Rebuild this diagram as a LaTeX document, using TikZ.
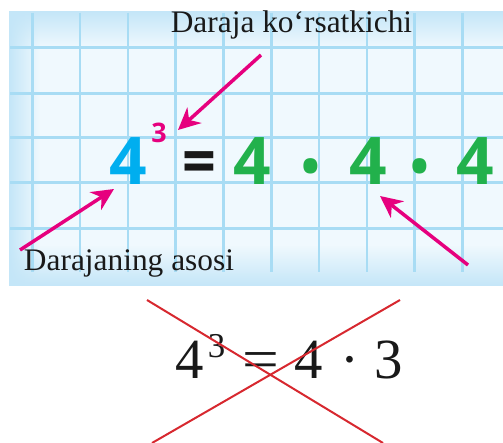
\documentclass[tikz,border=0pt]{standalone}
\usepackage{fontspec}
\setmainfont{Liberation Serif}
\newfontfamily\digfont{Open Sans}
\usetikzlibrary{arrows.meta,fadings}
\definecolor{gridblue}{HTML}{A8DCF4}
\definecolor{bgin}{HTML}{F0F9FE}
\definecolor{bgedge}{HTML}{C4E6F8}
\definecolor{cyanfour}{HTML}{00AEEF}
\definecolor{greenfour}{HTML}{22B14C}
\definecolor{magentaarrow}{HTML}{E6007E}
\definecolor{crossred}{HTML}{D7282F}
\tikzfading[name=fadeTop, top color=transparent!0, bottom color=transparent!100]
\tikzfading[name=fadeBottom, top color=transparent!100, bottom color=transparent!0]
\tikzfading[name=fadeLeft, left color=transparent!0, right color=transparent!100]
\begin{document}
\begin{tikzpicture}[x=1bp,y=-1bp,
  gridline/.style={draw=gridblue, line width=2.5bp},
  lbl/.style={inner sep=0pt, font=\fontsize{31.5}{36}\selectfont, text=black!90},
  dig/.style={inner sep=0pt, anchor=base, font=\digfont\bfseries\fontsize{66}{70}\selectfont},
  supdig/.style={inner sep=0pt, anchor=base, font=\digfont\bfseries\fontsize{27}{30}\selectfont, text=magentaarrow},
  multdot/.style={inner sep=0pt, anchor=base, font=\digfont\bfseries\fontsize{50}{55}\selectfont, text=greenfour},
  pinkarrow/.style={draw=magentaarrow, line width=3.5bp, -{Stealth[length=22bp,width=21bp,inset=7bp]}},
  eqserif/.style={inner sep=0pt, anchor=base, font=\fontsize{57}{60}\selectfont, text=black!90},
  eqsup/.style={inner sep=0pt, anchor=base, font=\fontsize{35}{40}\selectfont, text=black!90},
  crossline/.style={draw=crossred, line width=2bp}]
\useasboundingbox (0,0) rectangle (503,443);
% background
\fill[bgin] (9,11) rectangle (503,286);
\fill[bgedge, path fading=fadeTop] (9,11) rectangle (503,48);
\fill[bgedge, path fading=fadeBottom] (9,245) rectangle (503,286);
\fill[bgedge, path fading=fadeLeft] (9,11) rectangle (40,286);
% grid
\foreach \i in {0,...,9} \draw[gridline] ({32.3+47.8*\i},13) -- ({32.3+47.8*\i},272);
\foreach \j in {47.7,93.3,137.7,182.7,228.3} \draw[gridline] (10,\j) -- (503,\j);
% labels
\node[lbl, anchor=base] (expolabel) at (291.5,33) {Daraja ko‘rsatkichi};
\node[lbl, anchor=base] (baselabel) at (129,270) {Darajaning asosi};
% top equation
\node[dig, text=cyanfour] (basefour) at (128.5,185) {4};
\node[supdig] (expthree) at (159,143) {3};
\node[dig, text=black!90, xscale=0.9] (eqsign) at (199,185) {=};
\node[dig, text=greenfour] (fourA) at (252.5,185) {4};
\node[multdot] (dotA) at (311,185) {•};
\node[dig, text=greenfour] (fourB) at (368.5,185) {4};
\node[multdot] (dotB) at (420,185) {•};
\node[dig, text=greenfour] (fourC) at (475.5,185) {4};
% arrows
\coordinate (arrAstart) at (261,55);
\coordinate (arrAtip) at (178,130);
\coordinate (arrBstart) at (20,250);
\coordinate (arrBtip) at (114,189);
\coordinate (arrCstart) at (468,265);
\coordinate (arrCtip) at (380,196);
\draw[pinkarrow] (arrAstart) -- (arrAtip);
\draw[pinkarrow] (arrBstart) -- (arrBtip);
\draw[pinkarrow] (arrCstart) -- (arrCtip);
% bottom equation
\node[eqserif] (btmfour) at (189.2,378) {4};
\node[eqsup] (btmthree) at (216.5,357) {3};
\node[eqserif, xscale=1.15] (btmeq) at (260.5,378) {=};
\node[eqserif] (btmfourB) at (309,378) {4};
\node[eqserif] (btmdot) at (350,378) {·};
\node[eqserif] (btmthreeB) at (389,378) {3};
% cross
\draw[crossline] (147,300) -- (383,443);
\draw[crossline] (400,300) -- (152,443);
\end{tikzpicture}
\end{document}
